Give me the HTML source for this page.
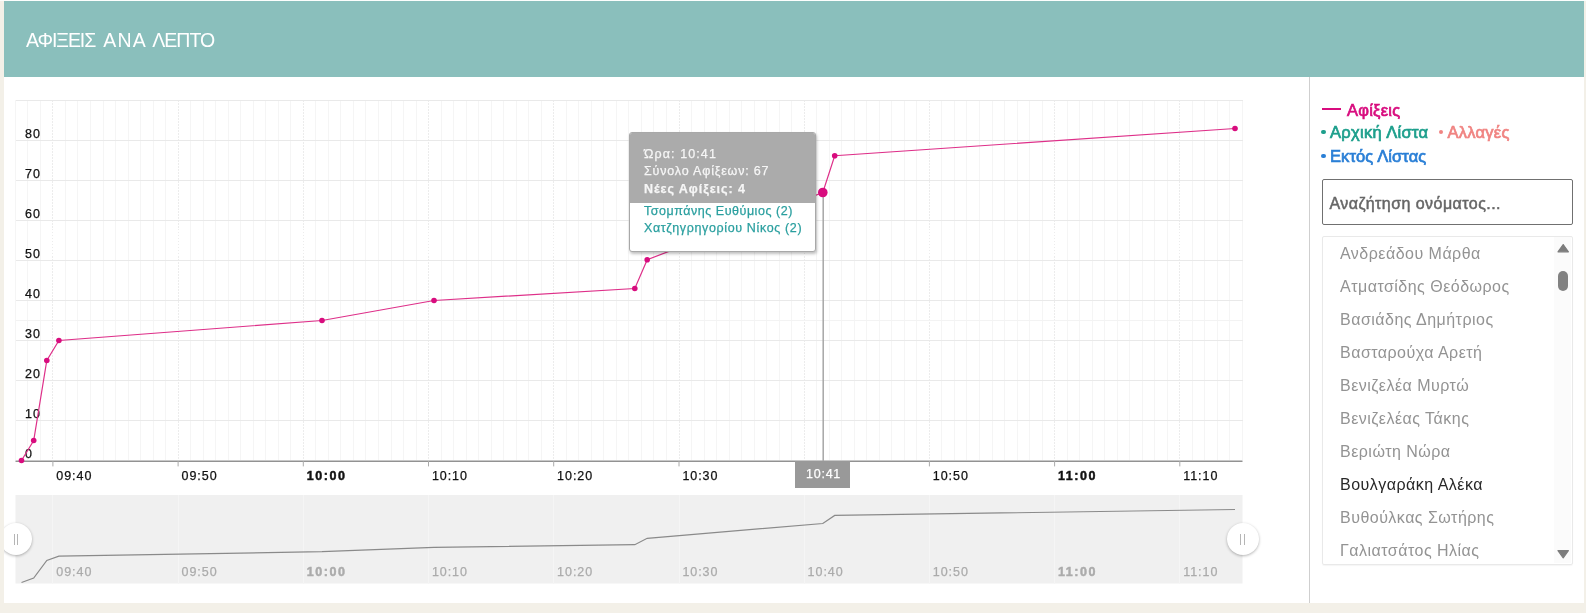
<!DOCTYPE html>
<html><head><meta charset="utf-8"><title>chart</title>
<style>
html,body{margin:0;padding:0}
body{will-change:transform;width:1586px;height:613px;overflow:hidden;background:#f3f0e8;font-family:"Liberation Sans",sans-serif;position:relative}
#panel{position:absolute;left:4px;top:1px;width:1580px;height:602px;background:#fff;overflow:hidden}
#hdr{position:absolute;left:0;top:0;width:1580px;height:76px;background:#8abfbc}
#ttl{position:absolute;left:22px;top:28px;font-size:19.5px;line-height:22px;color:#fff;white-space:nowrap;letter-spacing:-0.1px}
#div{position:absolute;left:1305px;top:76px;width:1px;height:526px;background:#cfcfcf}
svg{position:absolute;left:-4px;top:-1px}
svg g.mini text{fill:#ababab !important}
svg text{font-family:"Liberation Sans",sans-serif;font-size:12.5px;fill:#111;letter-spacing:0.95px;stroke:#111;stroke-width:0.25px}
svg text.b{letter-spacing:1.55px;stroke-width:0.45px}
svg g.mini text{stroke:#ababab}
.lg{position:absolute;font-size:16.5px;font-weight:normal;-webkit-text-stroke:0.7px currentColor;white-space:nowrap;line-height:20px;letter-spacing:0.25px}
.dot{position:absolute;width:4.6px;height:4.6px;border-radius:2.3px;margin:-0.3px 0 0 -0.3px}
#srch{position:absolute;left:1322px;top:178.5px;width:249px;height:44px;border:1px solid #707070;border-radius:2px;box-sizing:content-box}
#srch span{position:absolute;left:6.5px;top:14.5px;font-size:16px;font-weight:normal;-webkit-text-stroke:0.5px #666;letter-spacing:0.45px;color:#666;line-height:20px;white-space:nowrap}
#list{position:absolute;left:1322px;top:235.5px;width:249px;height:327px;border:1px solid #e9e9e9;border-radius:2px;box-shadow:0 1px 1px rgba(0,0,0,.04)}
#track{position:absolute;left:1554px;top:236.5px;width:17px;height:326px;background:#fbfbfb}
.nm{position:absolute;left:1340px;font-size:16px;letter-spacing:0.48px;color:#939393;line-height:24px;white-space:nowrap}
.nm.sel{color:#282828}
#tip{position:absolute;left:625px;top:131px;width:185px;height:118px;border:1px solid #a8a8a8;border-radius:3px;background:#fff;box-shadow:1px 2px 3px rgba(0,0,0,.25);overflow:hidden;font-size:12.5px;letter-spacing:0.7px}
#tip .g{position:absolute;left:0;top:0;width:185px;height:70px;background:#ababab}
#tip div.t{position:absolute;left:14px;white-space:nowrap;line-height:16px;color:#f6f6f6;-webkit-text-stroke:0.25px currentColor}
#tip div.c{color:#2a9f9f}
#clab{position:absolute;left:791px;top:460px;width:55px;height:27px;background:#999;color:#fff;font-size:12.5px;letter-spacing:0.75px;line-height:16px}
#clab span{position:absolute;left:11px;top:4.5px;-webkit-text-stroke:0.25px #fff}
.hd{position:absolute;width:32px;height:32px;border-radius:16px;background:#fff;box-shadow:0 1px 3px rgba(0,0,0,.3)}
.hd i{position:absolute;top:10.5px;width:1.3px;height:11px;background:#b5b5b5}
</style></head><body>
<div style="position:absolute;left:0;top:0;width:1586px;height:1px;background:#fcfefd"></div>
<div id="panel">
<div id="hdr"><div id="ttl"><span style="position:absolute;left:0;letter-spacing:-1.05px">ΑΦΙΞΕΙΣ</span><span style="position:absolute;left:77.2px;letter-spacing:1.2px">ΑΝΑ</span><span style="position:absolute;left:126.3px;letter-spacing:-1.0px">ΛΕΠΤΟ</span></div></div>
<div id="div"></div>
<svg width="1586" height="613" viewBox="0 0 1586 613">
<g shape-rendering="crispEdges">
<line x1="15.5" y1="100.5" x2="1242.5" y2="100.5" stroke="#e6e6e6"/>
<line x1="15.3" y1="100" x2="15.3" y2="460" stroke="#f5f5f5"/><line x1="27.9" y1="100" x2="27.9" y2="460" stroke="#f5f5f5"/><line x1="40.4" y1="100" x2="40.4" y2="460" stroke="#f5f5f5"/><line x1="52.9" y1="100" x2="52.9" y2="460" stroke="#ececec" stroke-dasharray="1.5,1.5"/><line x1="65.4" y1="100" x2="65.4" y2="460" stroke="#f5f5f5"/><line x1="77.9" y1="100" x2="77.9" y2="460" stroke="#f5f5f5"/><line x1="90.5" y1="100" x2="90.5" y2="460" stroke="#f5f5f5"/><line x1="103.0" y1="100" x2="103.0" y2="460" stroke="#f5f5f5"/><line x1="115.5" y1="100" x2="115.5" y2="460" stroke="#f5f5f5"/><line x1="128.0" y1="100" x2="128.0" y2="460" stroke="#f5f5f5"/><line x1="140.5" y1="100" x2="140.5" y2="460" stroke="#f5f5f5"/><line x1="153.1" y1="100" x2="153.1" y2="460" stroke="#f5f5f5"/><line x1="165.6" y1="100" x2="165.6" y2="460" stroke="#f5f5f5"/><line x1="178.1" y1="100" x2="178.1" y2="460" stroke="#ececec" stroke-dasharray="1.5,1.5"/><line x1="190.6" y1="100" x2="190.6" y2="460" stroke="#f5f5f5"/><line x1="203.2" y1="100" x2="203.2" y2="460" stroke="#f5f5f5"/><line x1="215.7" y1="100" x2="215.7" y2="460" stroke="#f5f5f5"/><line x1="228.2" y1="100" x2="228.2" y2="460" stroke="#f5f5f5"/><line x1="240.7" y1="100" x2="240.7" y2="460" stroke="#f5f5f5"/><line x1="253.2" y1="100" x2="253.2" y2="460" stroke="#f5f5f5"/><line x1="265.8" y1="100" x2="265.8" y2="460" stroke="#f5f5f5"/><line x1="278.3" y1="100" x2="278.3" y2="460" stroke="#f5f5f5"/><line x1="290.8" y1="100" x2="290.8" y2="460" stroke="#f5f5f5"/><line x1="303.3" y1="100" x2="303.3" y2="460" stroke="#ececec" stroke-dasharray="1.5,1.5"/><line x1="315.8" y1="100" x2="315.8" y2="460" stroke="#f5f5f5"/><line x1="328.4" y1="100" x2="328.4" y2="460" stroke="#f5f5f5"/><line x1="340.9" y1="100" x2="340.9" y2="460" stroke="#f5f5f5"/><line x1="353.4" y1="100" x2="353.4" y2="460" stroke="#f5f5f5"/><line x1="365.9" y1="100" x2="365.9" y2="460" stroke="#f5f5f5"/><line x1="378.4" y1="100" x2="378.4" y2="460" stroke="#f5f5f5"/><line x1="391.0" y1="100" x2="391.0" y2="460" stroke="#f5f5f5"/><line x1="403.5" y1="100" x2="403.5" y2="460" stroke="#f5f5f5"/><line x1="416.0" y1="100" x2="416.0" y2="460" stroke="#f5f5f5"/><line x1="428.5" y1="100" x2="428.5" y2="460" stroke="#ececec" stroke-dasharray="1.5,1.5"/><line x1="441.1" y1="100" x2="441.1" y2="460" stroke="#f5f5f5"/><line x1="453.6" y1="100" x2="453.6" y2="460" stroke="#f5f5f5"/><line x1="466.1" y1="100" x2="466.1" y2="460" stroke="#f5f5f5"/><line x1="478.6" y1="100" x2="478.6" y2="460" stroke="#f5f5f5"/><line x1="491.1" y1="100" x2="491.1" y2="460" stroke="#f5f5f5"/><line x1="503.7" y1="100" x2="503.7" y2="460" stroke="#f5f5f5"/><line x1="516.2" y1="100" x2="516.2" y2="460" stroke="#f5f5f5"/><line x1="528.7" y1="100" x2="528.7" y2="460" stroke="#f5f5f5"/><line x1="541.2" y1="100" x2="541.2" y2="460" stroke="#f5f5f5"/><line x1="553.7" y1="100" x2="553.7" y2="460" stroke="#ececec" stroke-dasharray="1.5,1.5"/><line x1="566.3" y1="100" x2="566.3" y2="460" stroke="#f5f5f5"/><line x1="578.8" y1="100" x2="578.8" y2="460" stroke="#f5f5f5"/><line x1="591.3" y1="100" x2="591.3" y2="460" stroke="#f5f5f5"/><line x1="603.8" y1="100" x2="603.8" y2="460" stroke="#f5f5f5"/><line x1="616.3" y1="100" x2="616.3" y2="460" stroke="#f5f5f5"/><line x1="628.9" y1="100" x2="628.9" y2="460" stroke="#f5f5f5"/><line x1="641.4" y1="100" x2="641.4" y2="460" stroke="#f5f5f5"/><line x1="653.9" y1="100" x2="653.9" y2="460" stroke="#f5f5f5"/><line x1="666.4" y1="100" x2="666.4" y2="460" stroke="#f5f5f5"/><line x1="679.0" y1="100" x2="679.0" y2="460" stroke="#ececec" stroke-dasharray="1.5,1.5"/><line x1="691.5" y1="100" x2="691.5" y2="460" stroke="#f5f5f5"/><line x1="704.0" y1="100" x2="704.0" y2="460" stroke="#f5f5f5"/><line x1="716.5" y1="100" x2="716.5" y2="460" stroke="#f5f5f5"/><line x1="729.0" y1="100" x2="729.0" y2="460" stroke="#f5f5f5"/><line x1="741.6" y1="100" x2="741.6" y2="460" stroke="#f5f5f5"/><line x1="754.1" y1="100" x2="754.1" y2="460" stroke="#f5f5f5"/><line x1="766.6" y1="100" x2="766.6" y2="460" stroke="#f5f5f5"/><line x1="779.1" y1="100" x2="779.1" y2="460" stroke="#f5f5f5"/><line x1="791.6" y1="100" x2="791.6" y2="460" stroke="#f5f5f5"/><line x1="804.2" y1="100" x2="804.2" y2="460" stroke="#ececec" stroke-dasharray="1.5,1.5"/><line x1="816.7" y1="100" x2="816.7" y2="460" stroke="#f5f5f5"/><line x1="829.2" y1="100" x2="829.2" y2="460" stroke="#f5f5f5"/><line x1="841.7" y1="100" x2="841.7" y2="460" stroke="#f5f5f5"/><line x1="854.2" y1="100" x2="854.2" y2="460" stroke="#f5f5f5"/><line x1="866.8" y1="100" x2="866.8" y2="460" stroke="#f5f5f5"/><line x1="879.3" y1="100" x2="879.3" y2="460" stroke="#f5f5f5"/><line x1="891.8" y1="100" x2="891.8" y2="460" stroke="#f5f5f5"/><line x1="904.3" y1="100" x2="904.3" y2="460" stroke="#f5f5f5"/><line x1="916.8" y1="100" x2="916.8" y2="460" stroke="#f5f5f5"/><line x1="929.4" y1="100" x2="929.4" y2="460" stroke="#ececec" stroke-dasharray="1.5,1.5"/><line x1="941.9" y1="100" x2="941.9" y2="460" stroke="#f5f5f5"/><line x1="954.4" y1="100" x2="954.4" y2="460" stroke="#f5f5f5"/><line x1="966.9" y1="100" x2="966.9" y2="460" stroke="#f5f5f5"/><line x1="979.5" y1="100" x2="979.5" y2="460" stroke="#f5f5f5"/><line x1="992.0" y1="100" x2="992.0" y2="460" stroke="#f5f5f5"/><line x1="1004.5" y1="100" x2="1004.5" y2="460" stroke="#f5f5f5"/><line x1="1017.0" y1="100" x2="1017.0" y2="460" stroke="#f5f5f5"/><line x1="1029.5" y1="100" x2="1029.5" y2="460" stroke="#f5f5f5"/><line x1="1042.1" y1="100" x2="1042.1" y2="460" stroke="#f5f5f5"/><line x1="1054.6" y1="100" x2="1054.6" y2="460" stroke="#ececec" stroke-dasharray="1.5,1.5"/><line x1="1067.1" y1="100" x2="1067.1" y2="460" stroke="#f5f5f5"/><line x1="1079.6" y1="100" x2="1079.6" y2="460" stroke="#f5f5f5"/><line x1="1092.1" y1="100" x2="1092.1" y2="460" stroke="#f5f5f5"/><line x1="1104.7" y1="100" x2="1104.7" y2="460" stroke="#f5f5f5"/><line x1="1117.2" y1="100" x2="1117.2" y2="460" stroke="#f5f5f5"/><line x1="1129.7" y1="100" x2="1129.7" y2="460" stroke="#f5f5f5"/><line x1="1142.2" y1="100" x2="1142.2" y2="460" stroke="#f5f5f5"/><line x1="1154.7" y1="100" x2="1154.7" y2="460" stroke="#f5f5f5"/><line x1="1167.3" y1="100" x2="1167.3" y2="460" stroke="#f5f5f5"/><line x1="1179.8" y1="100" x2="1179.8" y2="460" stroke="#ececec" stroke-dasharray="1.5,1.5"/><line x1="1192.3" y1="100" x2="1192.3" y2="460" stroke="#f5f5f5"/><line x1="1204.8" y1="100" x2="1204.8" y2="460" stroke="#f5f5f5"/><line x1="1217.4" y1="100" x2="1217.4" y2="460" stroke="#f5f5f5"/><line x1="1229.9" y1="100" x2="1229.9" y2="460" stroke="#f5f5f5"/><line x1="1242.4" y1="100" x2="1242.4" y2="460" stroke="#f5f5f5"/>
<line x1="15.5" y1="420.5" x2="1242.5" y2="420.5" stroke="#e9e9e9"/><line x1="15.5" y1="380.5" x2="1242.5" y2="380.5" stroke="#e9e9e9"/><line x1="15.5" y1="340.5" x2="1242.5" y2="340.5" stroke="#e9e9e9"/><line x1="15.5" y1="300.5" x2="1242.5" y2="300.5" stroke="#e9e9e9"/><line x1="15.5" y1="260.5" x2="1242.5" y2="260.5" stroke="#e9e9e9"/><line x1="15.5" y1="220.5" x2="1242.5" y2="220.5" stroke="#e9e9e9"/><line x1="15.5" y1="180.5" x2="1242.5" y2="180.5" stroke="#e9e9e9"/><line x1="15.5" y1="140.5" x2="1242.5" y2="140.5" stroke="#e9e9e9"/><line x1="15.5" y1="100.5" x2="1242.5" y2="100.5" stroke="#e9e9e9"/><line x1="15.5" y1="320" x2="1242.5" y2="320" stroke="#f3f3f3"/>
</g>
<rect x="15.5" y="495" width="1227" height="88.5" fill="#f0f0f0"/>
<g shape-rendering="crispEdges"><line x1="52.9" y1="495" x2="52.9" y2="583.5" stroke="#f5f5f5"/><line x1="178.1" y1="495" x2="178.1" y2="583.5" stroke="#f5f5f5"/><line x1="303.3" y1="495" x2="303.3" y2="583.5" stroke="#f5f5f5"/><line x1="428.5" y1="495" x2="428.5" y2="583.5" stroke="#f5f5f5"/><line x1="553.7" y1="495" x2="553.7" y2="583.5" stroke="#f5f5f5"/><line x1="679.0" y1="495" x2="679.0" y2="583.5" stroke="#f5f5f5"/><line x1="804.2" y1="495" x2="804.2" y2="583.5" stroke="#f5f5f5"/><line x1="929.4" y1="495" x2="929.4" y2="583.5" stroke="#f5f5f5"/><line x1="1054.6" y1="495" x2="1054.6" y2="583.5" stroke="#f5f5f5"/><line x1="1179.8" y1="495" x2="1179.8" y2="583.5" stroke="#f5f5f5"/></g>
<polyline points="21.5,582.5 33.7,578.1 46.8,560.5 58.9,556.1 322.0,551.7 434.0,547.3 634.8,544.7 647.2,538.3 822.8,523.5 834.7,515.4 1235.0,509.5" fill="none" stroke="#8a8a8a" stroke-width="1.2"/>
<g class="mini"><text x="56.3" y="575.5">09:40</text><text x="181.5" y="575.5">09:50</text><text x="306.7" y="575.5" font-weight="bold" class="b">10:00</text><text x="431.9" y="575.5">10:10</text><text x="557.1" y="575.5">10:20</text><text x="682.4" y="575.5">10:30</text><text x="807.6" y="575.5">10:40</text><text x="932.8" y="575.5">10:50</text><text x="1058.0" y="575.5" font-weight="bold" class="b">11:00</text><text x="1183.2" y="575.5">11:10</text></g>
<line x1="15.5" y1="461.2" x2="1242.5" y2="461.2" stroke="#929292" stroke-width="1.5"/>
<line x1="52.9" y1="461" x2="52.9" y2="466.4" stroke="#aaa"/><line x1="178.1" y1="461" x2="178.1" y2="466.4" stroke="#aaa"/><line x1="303.3" y1="461" x2="303.3" y2="466.4" stroke="#aaa"/><line x1="428.5" y1="461" x2="428.5" y2="466.4" stroke="#aaa"/><line x1="553.7" y1="461" x2="553.7" y2="466.4" stroke="#aaa"/><line x1="679.0" y1="461" x2="679.0" y2="466.4" stroke="#aaa"/><line x1="804.2" y1="461" x2="804.2" y2="466.4" stroke="#aaa"/><line x1="929.4" y1="461" x2="929.4" y2="466.4" stroke="#aaa"/><line x1="1054.6" y1="461" x2="1054.6" y2="466.4" stroke="#aaa"/><line x1="1179.8" y1="461" x2="1179.8" y2="466.4" stroke="#aaa"/>
<text x="25" y="458.2">0</text><text x="25" y="418.2">10</text><text x="25" y="378.2">20</text><text x="25" y="338.2">30</text><text x="25" y="298.2">40</text><text x="25" y="258.2">50</text><text x="25" y="218.2">60</text><text x="25" y="178.2">70</text><text x="25" y="138.2">80</text>
<text x="56.3" y="480.3">09:40</text><text x="181.5" y="480.3">09:50</text><text x="306.7" y="480.3" font-weight="bold" class="b">10:00</text><text x="431.9" y="480.3">10:10</text><text x="557.1" y="480.3">10:20</text><text x="682.4" y="480.3">10:30</text><text x="932.8" y="480.3">10:50</text><text x="1058.0" y="480.3" font-weight="bold" class="b">11:00</text><text x="1183.2" y="480.3">11:10</text>
<line x1="823.2" y1="192" x2="823.2" y2="461" stroke="#a6a6a6" stroke-width="1.5"/>
<polyline points="21.5,460.5 33.7,440.5 46.8,360.5 58.9,340.5 322.0,320.5 434.0,300.5 634.8,288.5 647.2,259.7 822.8,192.5 834.7,155.7 1235.0,128.5" fill="none" stroke="#de2f89" stroke-width="1.2"/>
<circle cx="21.5" cy="460.5" r="2.8" fill="#d80c7e"/><circle cx="33.7" cy="440.5" r="2.8" fill="#d80c7e"/><circle cx="46.8" cy="360.5" r="2.8" fill="#d80c7e"/><circle cx="58.9" cy="340.5" r="2.8" fill="#d80c7e"/><circle cx="322.0" cy="320.5" r="2.8" fill="#d80c7e"/><circle cx="434.0" cy="300.5" r="2.8" fill="#d80c7e"/><circle cx="634.8" cy="288.5" r="2.8" fill="#d80c7e"/><circle cx="647.2" cy="259.7" r="2.8" fill="#d80c7e"/><circle cx="822.8" cy="192.5" r="4.8" fill="#d80c7e"/><circle cx="834.7" cy="155.7" r="2.8" fill="#d80c7e"/><circle cx="1235.0" cy="128.5" r="2.8" fill="#d80c7e"/>
</svg>
<div id="tip"><div class="g"></div>
<div class="t" style="top:12.7px;letter-spacing:1.1px">Ώρα: 10:41</div>
<div class="t" style="top:30.2px;letter-spacing:0.82px">Σύνολο Αφίξεων: 67</div>
<div class="t" style="top:48.2px;font-weight:bold;letter-spacing:0.95px">Νέες Αφίξεις: 4</div>
<div class="t c" style="top:69.8px;letter-spacing:0.53px">Τσομπάνης Ευθύμιος (2)</div>
<div class="t c" style="top:87.2px;letter-spacing:0.64px">Χατζηγρηγορίου Νίκος (2)</div>
</div>
<div id="clab"><span>10:41</span></div>
<div class="hd" style="left:-4px;top:522px"><i style="left:13.5px"></i><i style="left:17.2px"></i></div>
<div class="hd" style="left:1222.5px;top:522px"><i style="left:13.5px"></i><i style="left:17.2px"></i></div>
</div>
<div style="position:absolute;left:1322px;top:107.5px;width:18.5px;height:2px;background:#d80c7e"></div>
<div class="lg" style="left:1347px;top:100px;color:#d80c7e">Αφίξεις</div>
<div class="dot" style="left:1321.7px;top:130px;background:#1d9f8c"></div>
<div class="lg" style="left:1330px;top:122px;color:#1d9f8c;letter-spacing:0.33px">Αρχική Λίστα</div>
<div class="dot" style="left:1439.2px;top:130px;background:#f08482"></div>
<div class="lg" style="left:1447.5px;top:122px;color:#f08482">Αλλαγές</div>
<div class="dot" style="left:1321.7px;top:154px;background:#2a7fd6"></div>
<div class="lg" style="left:1330px;top:146px;color:#2a7fd6;letter-spacing:0.1px">Εκτός Λίστας</div>
<div id="srch"><span>Αναζήτηση ονόματος...</span></div>
<div id="list"></div><div id="track"></div>
<div class="nm" style="top:242.0px">Ανδρεάδου Μάρθα</div><div class="nm" style="top:275.0px">Ατματσίδης Θεόδωρος</div><div class="nm" style="top:308.0px">Βασιάδης Δημήτριος</div><div class="nm" style="top:341.0px">Βασταρούχα Αρετή</div><div class="nm" style="top:374.0px">Βενιζελέα Μυρτώ</div><div class="nm" style="top:407.0px">Βενιζελέας Τάκης</div><div class="nm" style="top:440.0px">Βεριώτη Νώρα</div><div class="nm sel" style="top:473.0px">Βουλγαράκη Αλέκα</div><div class="nm" style="top:506.0px">Βυθούλκας Σωτήρης</div><div class="nm" style="top:539.0px">Γαλιατσάτος Ηλίας</div>
<svg style="left:0;top:0" width="1586" height="613">
<path d="M1558 251.8 L1563.2 244.6 L1568.4 251.8 Z" fill="#7d7d7d" stroke="#7d7d7d" stroke-width="1.2" stroke-linejoin="round"/>
<path d="M1558 550.6 L1568.4 550.6 L1563.2 557.8 Z" fill="#7d7d7d" stroke="#7d7d7d" stroke-width="1.2" stroke-linejoin="round"/>
<rect x="1558" y="271" width="10" height="20" rx="5" fill="#828282"/>
</svg>
</body></html>
